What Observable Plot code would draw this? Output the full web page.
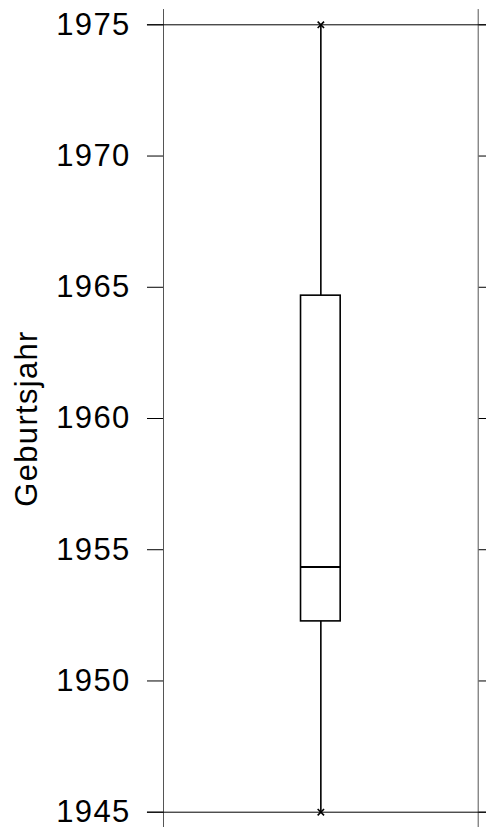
<!DOCTYPE html>
<html>
<head>
<meta charset="utf-8">
<script src="https://cdn.jsdelivr.net/npm/d3@7"></script>
<script src="https://cdn.jsdelivr.net/npm/@observablehq/plot@0.6"></script>
<style>
  html, body { margin: 0; padding: 0; background: #fff; }
  svg { display: block; }
</style>
</head>
<body>
<div id="chart"></div>
<script>
// Box-plot statistics (Geburtsjahr)
const category = ["Geburtsjahr"];
const lowerWhisker = [1945];
const q1 = [1952.27];
const median = [1954.34];
const q3 = [1964.68];
const upperWhisker = [1975];
const yTicks = [1945, 1950, 1955, 1960, 1965, 1970, 1975];
const yLabel = "Geburtsjahr";

const rows = category.map((c, i) => ({
  cat: c, pos: 0.5,
  lo: lowerWhisker[i], q1: q1[i], med: median[i], q3: q3[i], hi: upperWhisker[i]
}));
const half = 0.063;

const chart = Plot.plot({
  width: 486,
  height: 827,
  marginTop: 24.3,
  marginBottom: 15.3,
  marginLeft: 163,
  marginRight: 8.3,
  style: { fontFamily: "'Liberation Sans', Arial, sans-serif", background: "#fff", color: "#000", overflow: "visible" },
  x: { domain: [0, 1], axis: null },
  y: { domain: [1945, 1975] },
  marks: [
    Plot.ruleX([0, 1], { y1: 1944, y2: 1975.58, stroke: "#555", strokeWidth: 1 }),
    Plot.ruleY([yTicks[0], yTicks[yTicks.length - 1]], { x1: -0.051, x2: 1.1, stroke: "#000", strokeWidth: 1 }),
    Plot.axisY({
      anchor: "left", ticks: yTicks, tickSize: 16, tickPadding: 17,
      fontSize: 31, label: null, tickFormat: d => String(d)
    }),
    Plot.axisY({
      anchor: "right", ticks: yTicks, tickSize: 16, tickFormat: () => "", label: null
    }),
    Plot.ruleX(rows, { x: "pos", y1: "lo", y2: "q1", stroke: "#000", strokeWidth: 1.6 }),
    Plot.ruleX(rows, { x: "pos", y1: "q3", y2: "hi", stroke: "#000", strokeWidth: 1.6 }),
    Plot.rect(rows, { x1: d => d.pos - half, x2: d => d.pos + half, y1: "q1", y2: "q3", fill: "#fff", stroke: "#000", strokeWidth: 1.6 }),
    Plot.ruleY(rows, { y: "med", x1: d => d.pos - half, x2: d => d.pos + half, stroke: "#000", strokeWidth: 2 }),
    Plot.dot(rows, { x: "pos", y: "lo", symbol: "times", r: 3, stroke: "#000", strokeWidth: 1.6 }),
    Plot.dot(rows, { x: "pos", y: "hi", symbol: "times", r: 3, stroke: "#000", strokeWidth: 1.6 }),
    Plot.text([yLabel], {
      text: d => d, frameAnchor: "left", textAnchor: "middle", rotate: -90, dx: -127,
      lineAnchor: "bottom", fontSize: 31, fill: "#000"
    })
  ]
});
chart.querySelectorAll("text").forEach(t => t.setAttribute("letter-spacing", "1.3"));
document.getElementById("chart").append(chart);
</script>
</body>
</html>
